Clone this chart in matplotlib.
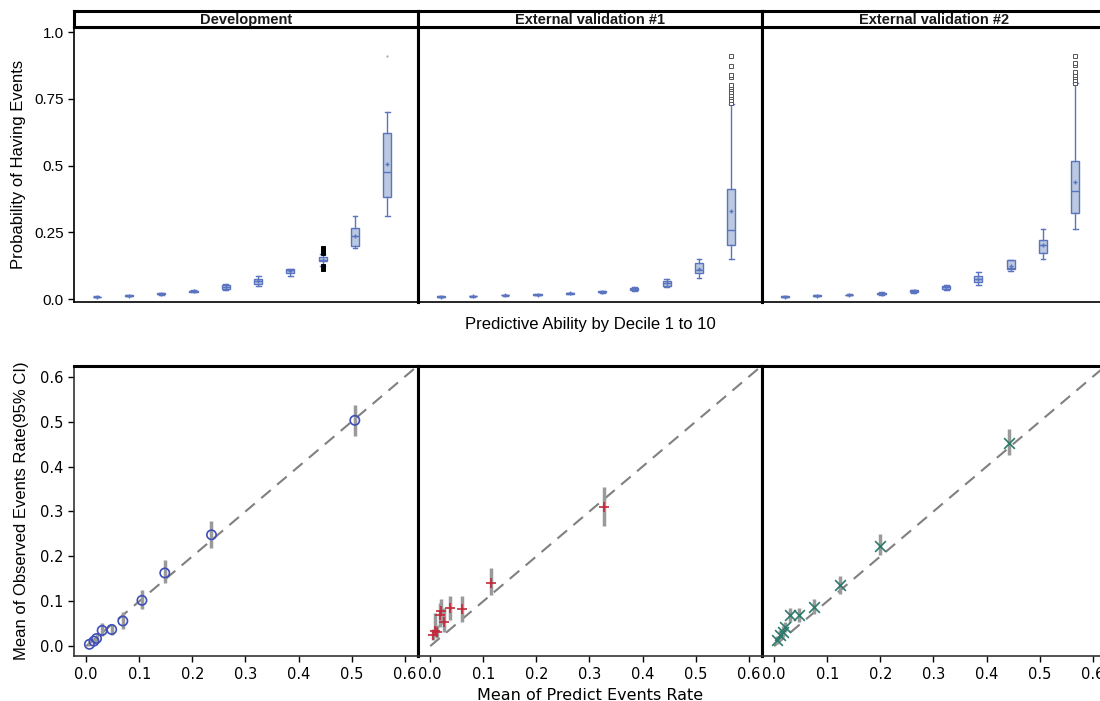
import matplotlib
matplotlib.use("Agg")
import matplotlib.pyplot as plt

# ---- data: boxplots of predicted probability by decile ----
deciles = [1, 2, 3, 4, 5, 6, 7, 8, 9, 10]
panel_titles = ["Development", "External validation #1", "External validation #2"]

dev_lo = [0.006, 0.011, 0.017, 0.025, 0.035, 0.050, 0.086, 0.125, 0.190, 0.311]
dev_q1 = [0.007, 0.012, 0.018, 0.027, 0.039, 0.056, 0.099, 0.141, 0.200, 0.381]
dev_med = [0.008, 0.013, 0.019, 0.029, 0.046, 0.066, 0.108, 0.146, 0.236, 0.476]
dev_q3 = [0.009, 0.014, 0.021, 0.031, 0.052, 0.076, 0.111, 0.156, 0.265, 0.623]
dev_hi = [0.010, 0.015, 0.022, 0.034, 0.055, 0.086, 0.113, 0.170, 0.311, 0.700]
dev_mean = [0.008, 0.013, 0.019, 0.029, 0.046, 0.066, 0.106, 0.148, 0.236, 0.506]
dev_fliers = {8: [0.112, 0.116, 0.120, 0.124, 0.172, 0.176, 0.180, 0.184, 0.188, 0.190],
              10: [0.91]}

ext1_lo = [0.007, 0.009, 0.013, 0.015, 0.019, 0.024, 0.030, 0.047, 0.080, 0.149]
ext1_q1 = [0.008, 0.010, 0.014, 0.016, 0.020, 0.025, 0.033, 0.050, 0.099, 0.201]
ext1_med = [0.009, 0.011, 0.015, 0.017, 0.021, 0.027, 0.038, 0.060, 0.108, 0.257]
ext1_q3 = [0.010, 0.012, 0.016, 0.018, 0.022, 0.029, 0.043, 0.069, 0.134, 0.411]
ext1_hi = [0.011, 0.013, 0.017, 0.019, 0.023, 0.031, 0.045, 0.077, 0.149, 0.730]
ext1_mean = [0.009, 0.011, 0.015, 0.017, 0.021, 0.027, 0.038, 0.060, 0.114, 0.330]
ext1_fliers = {10: [0.735, 0.745, 0.755, 0.765, 0.775, 0.785, 0.795, 0.800,
                    0.830, 0.840, 0.874, 0.910]}

ext2_lo = [0.007, 0.010, 0.014, 0.016, 0.024, 0.035, 0.052, 0.105, 0.149, 0.261]
ext2_q1 = [0.008, 0.011, 0.015, 0.018, 0.026, 0.037, 0.064, 0.112, 0.171, 0.321]
ext2_med = [0.009, 0.012, 0.016, 0.020, 0.030, 0.045, 0.075, 0.116, 0.201, 0.403]
ext2_q3 = [0.010, 0.014, 0.017, 0.022, 0.033, 0.050, 0.086, 0.146, 0.223, 0.516]
ext2_hi = [0.011, 0.015, 0.018, 0.025, 0.035, 0.052, 0.102, 0.146, 0.261, 0.808]
ext2_mean = [0.009, 0.012, 0.016, 0.020, 0.030, 0.044, 0.075, 0.125, 0.201, 0.440]
ext2_fliers = {10: [0.810, 0.820, 0.830, 0.840, 0.850, 0.875, 0.885, 0.910]}

# ---- data: calibration (predicted vs observed with 95% CI) ----
dev_pred = [0.006, 0.0145, 0.0195, 0.030, 0.048, 0.069, 0.105, 0.148, 0.236, 0.506]
dev_obs = [0.004, 0.011, 0.017, 0.035, 0.037, 0.056, 0.102, 0.163, 0.248, 0.503]
dev_ci_lo = [0.000, 0.004, 0.009, 0.022, 0.024, 0.039, 0.082, 0.140, 0.219, 0.468]
dev_ci_hi = [0.009, 0.018, 0.026, 0.052, 0.050, 0.076, 0.125, 0.192, 0.279, 0.538]

ext1_pred = [0.005, 0.0094, 0.0126, 0.0176, 0.0207, 0.0264, 0.0377, 0.059, 0.114, 0.327]
ext1_obs = [0.024, 0.034, 0.032, 0.069, 0.079, 0.054, 0.084, 0.082, 0.141, 0.310]
ext1_ci_lo = [0.013, 0.021, 0.018, 0.043, 0.050, 0.032, 0.058, 0.054, 0.114, 0.268]
ext1_ci_hi = [0.039, 0.073, 0.048, 0.095, 0.106, 0.084, 0.111, 0.111, 0.175, 0.355]

ext2_pred = [0.006, 0.011, 0.016, 0.021, 0.0295, 0.047, 0.075, 0.124, 0.200, 0.443]
ext2_obs = [0.0134, 0.0245, 0.032, 0.042, 0.069, 0.069, 0.0876, 0.137, 0.223, 0.453]
ext2_ci_lo = [0.005, 0.014, 0.020, 0.032, 0.054, 0.054, 0.071, 0.117, 0.203, 0.425]
ext2_ci_hi = [0.022, 0.035, 0.045, 0.054, 0.084, 0.084, 0.104, 0.156, 0.249, 0.483]

box_sets = [
    (dev_lo, dev_q1, dev_med, dev_q3, dev_hi, dev_mean, dev_fliers),
    (ext1_lo, ext1_q1, ext1_med, ext1_q3, ext1_hi, ext1_mean, ext1_fliers),
    (ext2_lo, ext2_q1, ext2_med, ext2_q3, ext2_hi, ext2_mean, ext2_fliers),
]
cal_sets = [
    (dev_pred, dev_obs, dev_ci_lo, dev_ci_hi, "o", "#3f4fb8"),
    (ext1_pred, ext1_obs, ext1_ci_lo, ext1_ci_hi, "+", "#c4283a"),
    (ext2_pred, ext2_obs, ext2_ci_lo, ext2_ci_hi, "x", "#2b7a6c"),
]

W, H = 1100, 701
fig = plt.figure(figsize=(11, 7.01), dpi=100)


def fx(px):
    return px / W


def fy(py):
    return 1 - py / H


panel_left = [74, 418, 762]
panel_w = 344
box_edge = "#5a74c0"
box_fill = "#bac8e0"

# top row: boxplots
for i, (lo, q1, med, q3, hi, mn, fl) in enumerate(box_sets):
    ax = fig.add_axes([fx(panel_left[i]), fy(302), panel_w / W, 275 / H])
    stats = []
    for k, d in enumerate(deciles):
        stats.append({"whislo": lo[k], "q1": q1[k], "med": med[k], "q3": q3[k],
                      "whishi": hi[k], "mean": mn[k], "fliers": fl.get(d, []),
                      "label": str(d)})
    parts = ax.bxp(stats, positions=deciles, widths=0.25, showmeans=True,
                   patch_artist=True, capwidths=0.15,
                   boxprops=dict(facecolor=box_fill, edgecolor=box_edge, linewidth=1),
                   medianprops=dict(color=box_edge, linewidth=1),
                   whiskerprops=dict(color=box_edge, linewidth=1),
                   capprops=dict(color=box_edge, linewidth=1),
                   meanprops=dict(marker="+", markeredgecolor=box_edge, markersize=3),
                   flierprops=dict(marker="s", markersize=2.5,
                                   markerfacecolor="white",
                                   markeredgecolor="#555555", markeredgewidth=0.7))
    if i == 0:
        # dense dark outliers in decile 8, a faint dot in decile 10
        parts["fliers"][7].set_markerfacecolor("black")
        parts["fliers"][7].set_markeredgecolor("black")
        parts["fliers"][9].set_marker(".")
        parts["fliers"][9].set_markersize(2)
        parts["fliers"][9].set_markeredgecolor("#aab4cc")
        parts["fliers"][9].set_markerfacecolor("#aab4cc")
    ax.set_xlim(0.3, 10.95)
    ax.set_ylim(-0.011, 1.019)
    ax.set_xticks([])
    if i == 0:
        ax.set_yticks([0, 0.25, 0.5, 0.75, 1.0])
        ax.set_yticklabels(["0.0", "0.25", "0.5", "0.75", "1.0"],
                           family="Liberation Sans", fontsize=11)
        ax.set_ylabel("Probability of Having Events", family="Liberation Sans",
                      fontsize=12, labelpad=6)
        ax.tick_params(axis="y", length=4, width=1)
    else:
        ax.set_yticks([])
    for side, sp in ax.spines.items():
        sp.set_color("black")
        sp.set_linewidth(2.2)
    if i == 0:
        ax.spines["left"].set_linewidth(1.2)
    ax.spines["bottom"].set_linewidth(1.2)

    # header strip
    hs = fig.add_axes([fx(panel_left[i]), fy(27), panel_w / W, 16 / H])
    hs.set_xticks([])
    hs.set_yticks([])
    for sp in hs.spines.values():
        sp.set_color("black")
        sp.set_linewidth(2.2)
    hs.text(0.5, 0.45, panel_titles[i], ha="center", va="center",
            family="Liberation Sans", fontsize=10.5, fontweight="bold",
            color="#1a1a1a", transform=hs.transAxes)

fig.text(fx(590), fy(324), "Predictive Ability by Decile 1 to 10",
         ha="center", va="center", family="Liberation Sans", fontsize=12)

# bottom row: calibration plots
ticks = [0.0, 0.1, 0.2, 0.3, 0.4, 0.5, 0.6]
for i, (pred, obs, clo, chi, mk, col) in enumerate(cal_sets):
    ax = fig.add_axes([fx(panel_left[i]), fy(656), panel_w / W, 290 / H])
    ax.set_xlim(-0.023, 0.625)
    ax.set_ylim(-0.022, 0.624)
    ax.plot([0, 0.7], [0, 0.7], color="#808080", linewidth=1.5,
            dashes=(6, 4), zorder=1)
    ax.vlines(pred, clo, chi, color="#9a9a9a", linewidth=2.5, zorder=2)
    if mk == "o":
        ax.scatter(pred, obs, marker="o", s=45, facecolor="none",
                   edgecolor=col, linewidth=1.2, zorder=3)
    else:
        ax.scatter(pred, obs, marker=mk, s=60, color=col, linewidth=1.2,
                   zorder=3)
    ax.set_xticks(ticks)
    ax.set_xticklabels(["%.1f" % t for t in ticks], family="DejaVu Sans",
                       fontsize=10.5)
    ax.tick_params(axis="x", length=4, width=1, pad=4)
    if i == 0:
        ax.set_yticks(ticks)
        ax.set_yticklabels(["%.1f" % t for t in ticks], family="DejaVu Sans",
                           fontsize=10.5)
        ax.tick_params(axis="y", length=4, width=1)
        ax.set_ylabel("Mean of Observed Events Rate(95% CI)",
                      family="Liberation Sans", fontsize=12, labelpad=8)
    else:
        ax.set_yticks([])
    if i == 1:
        ax.set_xlabel("Mean of Predict Events Rate", family="DejaVu Sans",
                      fontsize=11.5, labelpad=4)
    for sp in ax.spines.values():
        sp.set_color("black")
        sp.set_linewidth(2.2)
    ax.spines["bottom"].set_linewidth(1.2)
    ax.spines["bottom"].set_color("#333333")
    if i == 0:
        ax.spines["left"].set_linewidth(1.2)
        ax.spines["left"].set_color("#333333")

fig.savefig("out.png", dpi=100)
